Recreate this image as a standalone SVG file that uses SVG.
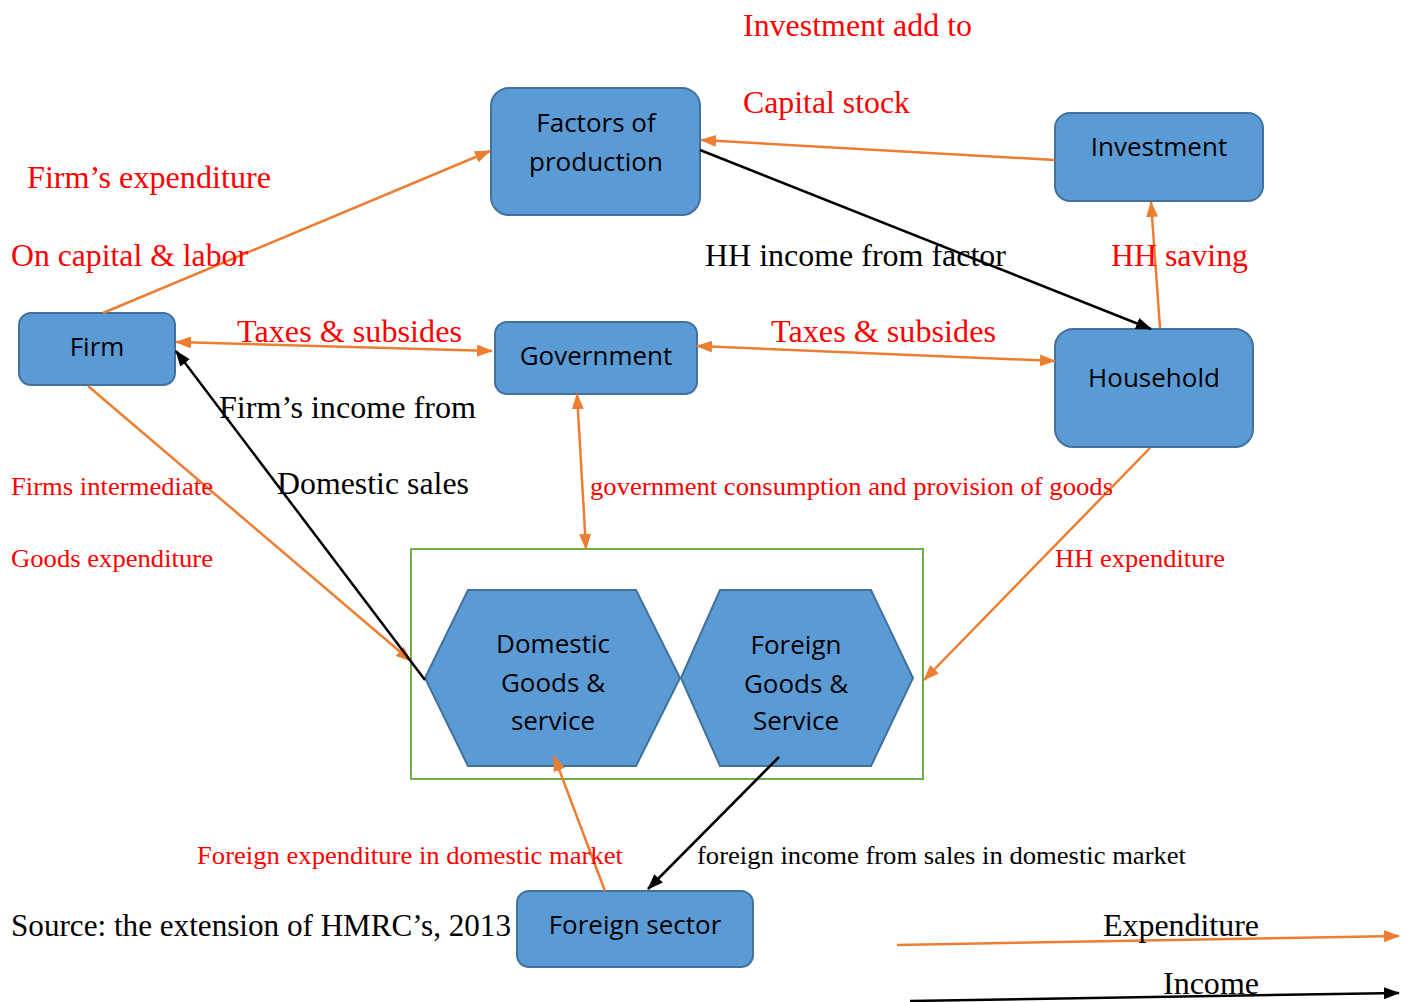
<svg xmlns="http://www.w3.org/2000/svg" width="1415" height="1002" viewBox="0 0 1415 1002">
<defs>
<marker id="ao" viewBox="0 0 16 12" refX="15" refY="6" markerWidth="16" markerHeight="12" markerUnits="userSpaceOnUse" orient="auto-start-reverse"><path d="M0,0 L16,6 L0,12 z" fill="#ed7d31"/></marker>
<marker id="ab" viewBox="0 0 16 12" refX="15" refY="6" markerWidth="16" markerHeight="12" markerUnits="userSpaceOnUse" orient="auto-start-reverse"><path d="M0,0 L16,6 L0,12 z" fill="#000"/></marker>
<style>
.box{fill:#5b9bd5;stroke:#41719c;stroke-width:2}
.nt{font-family:"Open Sans","Liberation Sans",sans-serif;font-size:26px;fill:#000;text-anchor:middle}
.o{stroke:#ed7d31;stroke-width:2.5;fill:none}
.k{stroke:#000;stroke-width:2.5;fill:none}
.r{font-family:"Liberation Serif",serif;fill:#ff0000}
.b{font-family:"Liberation Serif",serif;fill:#000}
</style>
</defs>
<rect width="1415" height="1002" fill="#fff"/>
<rect x="411" y="549" width="512" height="230" fill="none" stroke="#70ad47" stroke-width="2"/>
<g id="factors"><rect class="box" x="491" y="88" width="209" height="127" rx="18"/><text class="nt" x="596" y="132">Factors of</text><text class="nt" x="596" y="171">production</text></g>
<g id="investment"><rect class="box" x="1055" y="113" width="208" height="88" rx="15"/><text class="nt" x="1159" y="156">Investment</text></g>
<g id="firm"><rect class="box" x="19" y="313" width="156" height="72" rx="12"/><text class="nt" x="97" y="356">Firm</text></g>
<g id="government"><rect class="box" x="495" y="322" width="202" height="72" rx="12"/><text class="nt" x="596" y="365">Government</text></g>
<g id="household"><rect class="box" x="1055" y="329" width="198" height="118" rx="18"/><text class="nt" x="1154" y="387">Household</text></g>
<g id="foreign-sector"><rect class="box" x="517" y="891" width="236" height="76" rx="12"/><text class="nt" x="635" y="934">Foreign sector</text></g>
<g id="domestic-goods"><polygon class="box" points="425,678 468,590 636,590 680,678 636,766 468,766"/><text class="nt" x="553" y="653">Domestic</text><text class="nt" x="553" y="692">Goods &amp;</text><text class="nt" x="553" y="730">service</text></g>
<g id="foreign-goods"><polygon class="box" points="681,678 720,590 871,590 913,678 871,766 720,766"/><text class="nt" x="796" y="654">Foreign</text><text class="nt" x="796" y="693">Goods &amp;</text><text class="nt" x="796" y="730">Service</text></g>
<g id="connectors">
<line class="o" x1="103" y1="313" x2="490" y2="151" marker-end="url(#ao)"/>
<line class="o" x1="1055" y1="160" x2="701" y2="140" marker-end="url(#ao)"/>
<line class="k" x1="700" y1="150" x2="1151" y2="329" marker-end="url(#ab)"/>
<line class="o" x1="1160" y1="328" x2="1151" y2="202" marker-end="url(#ao)"/>
<line class="o" x1="176" y1="342" x2="492" y2="351" marker-start="url(#ao)" marker-end="url(#ao)"/>
<line class="o" x1="697" y1="346" x2="1055" y2="361" marker-start="url(#ao)" marker-end="url(#ao)"/>
<line class="o" x1="577" y1="394" x2="586" y2="549" marker-start="url(#ao)" marker-end="url(#ao)"/>
<line class="o" x1="88" y1="386" x2="411" y2="661" marker-end="url(#ao)"/>
<line class="k" x1="425" y1="680" x2="176" y2="351" marker-end="url(#ab)"/>
<line class="o" x1="1150" y1="448" x2="924" y2="680" marker-end="url(#ao)"/>
<line class="o" x1="605" y1="891" x2="554" y2="756" marker-end="url(#ao)"/>
<line class="k" x1="779" y1="757" x2="648" y2="889" marker-end="url(#ab)"/>
<line class="o" x1="897" y1="945" x2="1399" y2="936" marker-end="url(#ao)"/>
<line class="k" x1="910" y1="1001" x2="1399" y2="993" marker-end="url(#ab)"/>
</g>
<g id="labels">
<text class="r" x="743" y="36" font-size="31" textLength="229" lengthAdjust="spacingAndGlyphs">Investment add to</text>
<text class="r" x="743" y="113" font-size="31" textLength="167" lengthAdjust="spacingAndGlyphs">Capital stock</text>
<text class="r" x="27" y="188" font-size="31" textLength="244" lengthAdjust="spacingAndGlyphs">Firm’s expenditure</text>
<text class="r" x="11" y="266" font-size="31" textLength="237" lengthAdjust="spacingAndGlyphs">On capital &amp; labor</text>
<text class="b" x="705" y="266" font-size="31" textLength="301" lengthAdjust="spacingAndGlyphs">HH income from factor</text>
<text class="r" x="1111" y="266" font-size="31" textLength="137" lengthAdjust="spacingAndGlyphs">HH saving</text>
<text class="r" x="237" y="342" font-size="31" textLength="225" lengthAdjust="spacingAndGlyphs">Taxes &amp; subsides</text>
<text class="r" x="771" y="342" font-size="31" textLength="225" lengthAdjust="spacingAndGlyphs">Taxes &amp; subsides</text>
<text class="b" x="219" y="418" font-size="31" textLength="257" lengthAdjust="spacingAndGlyphs">Firm’s income from</text>
<text class="b" x="277" y="494" font-size="31" textLength="192" lengthAdjust="spacingAndGlyphs">Domestic sales</text>
<text class="r" x="11" y="495" font-size="25" textLength="202" lengthAdjust="spacingAndGlyphs">Firms intermediate</text>
<text class="r" x="11" y="567" font-size="25" textLength="202" lengthAdjust="spacingAndGlyphs">Goods expenditure</text>
<text class="r" x="590" y="495" font-size="25" textLength="523" lengthAdjust="spacingAndGlyphs">government consumption and provision of goods</text>
<text class="r" x="1055" y="567" font-size="25" textLength="170" lengthAdjust="spacingAndGlyphs">HH expenditure</text>
<text class="r" x="197" y="864" font-size="25" textLength="426" lengthAdjust="spacingAndGlyphs">Foreign expenditure in domestic market</text>
<text class="b" x="697" y="864" font-size="25" textLength="489" lengthAdjust="spacingAndGlyphs">foreign income from sales in domestic market</text>
<text class="b" x="11" y="936" font-size="31" textLength="500" lengthAdjust="spacingAndGlyphs">Source: the extension of HMRC’s, 2013</text>
<text class="b" x="1103" y="936" font-size="31" textLength="156" lengthAdjust="spacingAndGlyphs">Expenditure</text>
<text class="b" x="1163" y="994" font-size="31" textLength="96" lengthAdjust="spacingAndGlyphs">Income</text>
</g>
</svg>
